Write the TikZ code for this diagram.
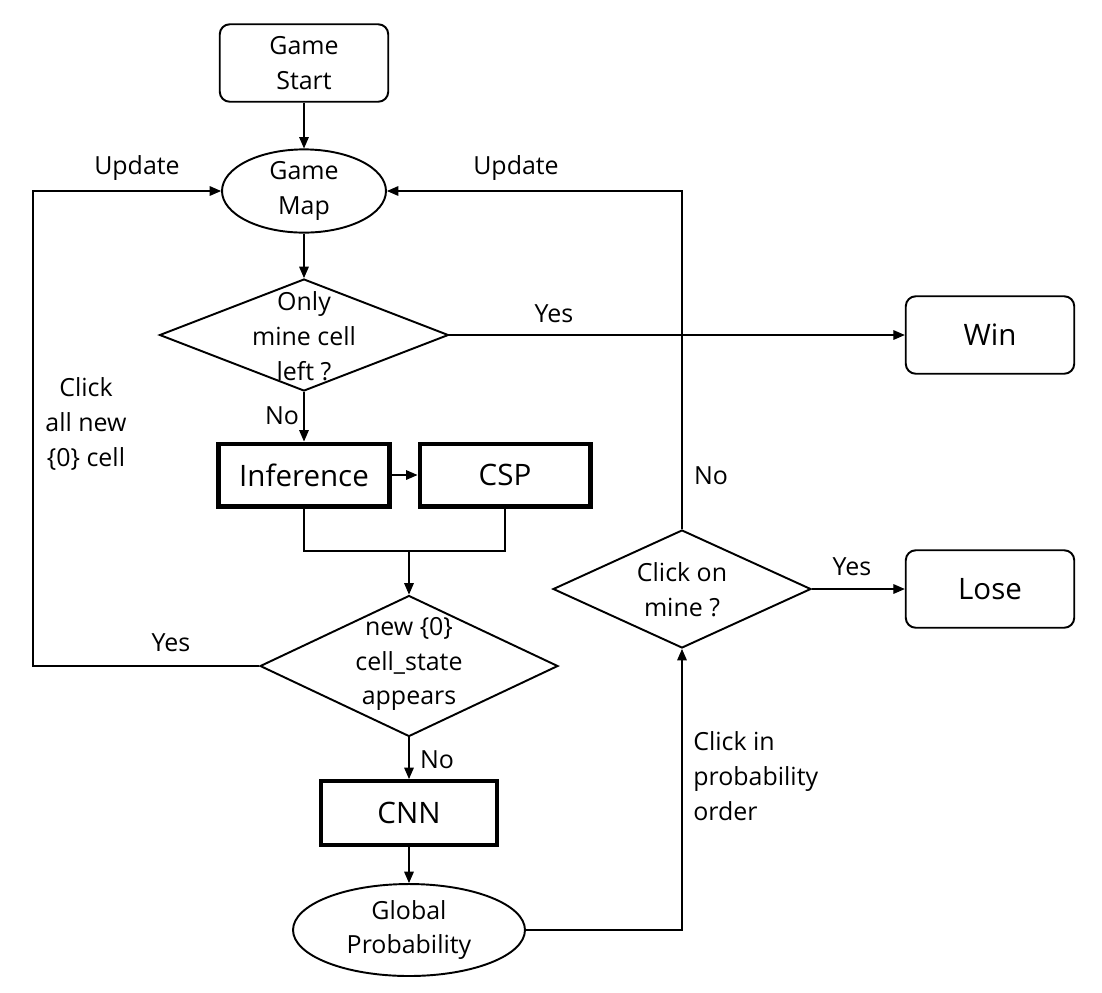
\documentclass[tikz,border=0pt]{standalone}
\usepackage{fontspec}
\setmainfont{Open Sans}
\usetikzlibrary{shapes.geometric,arrows.meta}
\begin{document}
\begin{tikzpicture}[x=0.02cm,y=-0.02cm,
  every node/.style={font=\fontsize{14.2}{19.8}\selectfont, align=center, inner sep=0pt},
  bigtext/.style={font=\fontsize{16.8}{22}\selectfont},
  termbox/.style={draw, line width=1.1pt, rounded corners=0.2cm, minimum width=3.37cm, minimum height=1.55cm},
  procbox/.style={draw, line width=2.3pt, minimum width=3.42cm, minimum height=1.26cm, bigtext},
  oval/.style={draw, ellipse, line width=1.1pt},
  decision/.style={draw, diamond, line width=1.1pt},
  conn/.style={line width=0.6pt},
  arr/.style={conn, -{Triangle[length=6.5pt,width=5.5pt]}},
  lbl/.style={}
]
\useasboundingbox (0,0) rectangle (1102,992);

% nodes
\node[termbox] (start) at (304,63) {Game\\Start};
\node[oval, minimum width=3.28cm, minimum height=1.56cm] (map) at (304,191) {Game\\Map};
\node[decision, minimum width=5.78cm, minimum height=2.24cm] (d1) at (304,335) {};
\node (d1t) at (304,336) {Only\\mine cell\\left ?};
\node[termbox, bigtext] (win) at (990,335) {Win};
\node[procbox] (inf) at (304,475) {Inference};
\node[procbox] (csp) at (505,475) {CSP};
\node[decision, minimum width=5.96cm, minimum height=2.82cm] (d2) at (409,666) {};
\node (d2t) at (409,664) {new \{0\}\\cell\_state\\appears};
\node[procbox, minimum width=3.52cm, minimum height=1.28cm] (cnn) at (409,813) {CNN};
\node[oval, minimum width=4.64cm, minimum height=1.84cm] (glob) at (409,930) {Global\\Probability};
\node[decision, minimum width=5.16cm, minimum height=2.36cm] (d3) at (682,589) {};
\node (d3t) at (682,590) {Click on\\mine ?};
\node[termbox, bigtext] (lose) at (990,589) {Lose};

% helper coordinates
\coordinate (merge) at (409,551);
\coordinate (lc) at (33,666);
\coordinate (lt) at (33,191);
\coordinate (rt) at (682,191);

% connectors
\draw[arr] (start) -- (map);
\draw[arr] (map) -- (d1);
\draw[arr] (d1.east) -- (win.west);
\draw[arr] (d1) -- (inf);
\draw[arr] (inf) -- (csp);
\draw[conn] (inf.south) |- (merge) -| (csp.south);
\draw[arr] (merge) -- (d2.north);
\draw[arr] (d2.west) -- (lc) -- (lt) -- (map.west);
\draw[arr] (d2) -- (cnn);
\draw[arr] (cnn) -- (glob);
\draw[arr] (glob.east) -| (d3.south);
\draw[arr] (d3.east) -- (lose.west);
\draw[arr] (d3.north) -- (rt) -- (map.east);

% labels
\node[lbl] (u1) at (137,168) {Update};
\node[lbl] (u2) at (516,168) {Update};
\node[lbl] (y1) at (554,314) {Yes};
\node[lbl] (n1) at (282,416) {No};
\node[lbl] (c1) at (86,424) {Click\\all new\\\{0\} cell};
\node[lbl] (y2) at (171,643) {Yes};
\node[lbl] (n2) at (437,760) {No};
\node[lbl, anchor=west, align=left] (c2) at (693,776) {Click in\\probability\\order};
\node[lbl] (n3) at (711,476) {No};
\node[lbl] (y3) at (852,567) {Yes};
\end{tikzpicture}
\end{document}
